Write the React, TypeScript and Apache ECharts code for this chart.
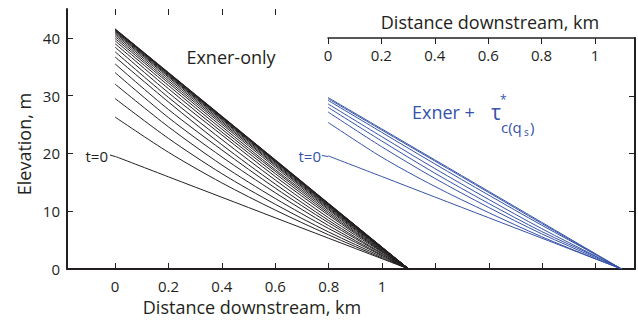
import React, { useEffect, useRef } from "react";
import * as echarts from "echarts";

// Distances (km) at which each profile was read
const X_PTS = [0, 0.2, 0.4, 0.6, 0.8, 1.0, 1.1];

// Exner-only profiles (elevation, m), t=0 first
const BLACK_PROFILES = [
  [19.5, 15.95, 12.41, 8.86, 5.32, 1.77, 0],
  [26.3, 20.2, 14.9, 10.2, 5.9, 1.9, 0],
  [29.5, 22.6, 16.5, 11.2, 6.4, 2.1, 0],
  [32.0, 24.6, 18.0, 12.2, 7.0, 2.3, 0],
  [34.0, 26.2, 19.4, 13.2, 7.5, 2.4, 0],
  [35.5, 27.6, 20.6, 14.0, 8.0, 2.6, 0],
  [36.7, 28.9, 21.5, 14.7, 8.4, 2.7, 0],
  [37.6, 29.7, 22.4, 15.4, 8.85, 2.9, 0],
  [38.4, 30.5, 23.2, 16.0, 9.3, 3.0, 0],
  [39.0, 31.2, 23.7, 16.5, 9.6, 3.1, 0],
  [39.5, 31.75, 24.2, 16.9, 9.9, 3.2, 0],
  [39.9, 32.2, 24.65, 17.2, 10.2, 3.3, 0],
  [40.25, 32.55, 25.05, 17.6, 10.4, 3.4, 0],
  [40.55, 32.9, 25.35, 17.9, 10.6, 3.5, 0],
  [40.8, 33.2, 25.6, 18.1, 10.75, 3.55, 0],
  [41.0, 33.4, 25.85, 18.3, 10.9, 3.6, 0],
  [41.15, 33.55, 26.0, 18.5, 11.0, 3.65, 0],
  [41.28, 33.7, 26.15, 18.6, 11.1, 3.7, 0],
  [41.38, 33.8, 26.25, 18.7, 11.2, 3.72, 0],
  [41.46, 33.88, 26.33, 18.8, 11.25, 3.74, 0],
  [41.52, 33.95, 26.4, 18.85, 11.3, 3.76, 0],
  [41.57, 34.0, 26.45, 18.9, 11.34, 3.78, 0],
];

// Exner + tau*c(qs) profiles (elevation, m), t=0 first
const BLUE_PROFILES = [
  [19.6, 16.04, 12.47, 8.91, 5.35, 1.78, 0],
  [25.4, 19.4, 14.3, 9.8, 5.6, 1.8, 0],
  [27.2, 21.2, 15.7, 10.7, 6.1, 2.0, 0],
  [28.0, 22.2, 16.6, 11.4, 6.5, 2.2, 0],
  [28.6, 22.95, 17.4, 12.1, 7.0, 2.3, 0],
  [29.2, 23.7, 18.2, 12.85, 7.6, 2.55, 0],
  [29.5, 24.1, 18.7, 13.3, 7.9, 2.6, 0],
  [29.7, 24.3, 18.9, 13.5, 8.1, 2.7, 0],
];

const BOTTOM_TICKS = [0, 0.2, 0.4, 0.6, 0.8, 1.0, 1.2, 1.4, 1.6, 1.8];
const BOTTOM_LABELS = [0, 0.2, 0.4, 0.6, 0.8, 1.0];
const TOP_LEFT_TICKS = [0, 0.2, 0.4, 0.6];
const TOP_RIGHT_TICKS = [0, 0.2, 0.4, 0.6, 0.8, 1.0];
const Y_TICKS = [0, 10, 20, 30, 40];
const Y_RIGHT_TICKS = [10, 20, 30];

const INK = "#231f20";
const BLUE = "#3553a8";
const FONT = "'Open Sans', 'Noto Sans', sans-serif";

const fmt = (v: number) => String(Math.round(v * 10) / 10);

export default function App() {
  const ref = useRef<HTMLDivElement>(null);
  useEffect(() => {
    if (!ref.current) return;
    const chart = echarts.init(ref.current, null, { renderer: "svg" });
    const series: any[] = [];
    BLACK_PROFILES.forEach((p) => {
      series.push({
        type: "line",
        xAxisIndex: 0,
        yAxisIndex: 0,
        data: X_PTS.map((x, i) => [x, p[i]]),
        smooth: 0.3,
        symbol: "none",
        lineStyle: { color: INK, width: 1 },
      });
    });
    BLUE_PROFILES.forEach((p) => {
      series.push({
        type: "line",
        xAxisIndex: 2,
        yAxisIndex: 1,
        data: X_PTS.map((x, i) => [x, p[i]]),
        smooth: 0.3,
        symbol: "none",
        lineStyle: { color: BLUE, width: 1 },
      });
    });
    const txt = (text: string, x: number, y: number, size: number, fill: string, align = "center") => ({
      type: "text",
      x,
      y,
      style: { text, fill, font: `${size}px ${FONT}`, textAlign: align, textVerticalAlign: "middle" },
    });
    chart.setOption({
      animation: false,
      backgroundColor: "#ffffff",
      textStyle: { fontFamily: FONT },
      grid: [
        { left: 67, right: 3, top: 9, bottom: 52 },
        { left: 328, right: 3, top: 38, bottom: 52 },
      ],
      xAxis: [
        {
          type: "value",
          gridIndex: 0,
          position: "bottom",
          min: -0.18,
          max: 1.947,
          splitLine: { show: false },
          axisLine: { show: true, onZero: false, lineStyle: { color: INK, width: 2 } },
          axisTick: { show: true, inside: true, length: 6, customValues: BOTTOM_TICKS, lineStyle: { color: INK, width: 1 } },
          axisLabel: { show: true, customValues: BOTTOM_LABELS, formatter: fmt, color: INK, fontSize: 15, margin: 9, fontFamily: FONT },
        },
        {
          type: "value",
          gridIndex: 0,
          position: "top",
          min: -0.18,
          max: 1.947,
          splitLine: { show: false },
          axisLine: { show: false, onZero: false },
          axisTick: { show: true, inside: true, length: 6, customValues: TOP_LEFT_TICKS, lineStyle: { color: INK, width: 1 } },
          axisLabel: { show: false },
        },
        {
          type: "value",
          gridIndex: 1,
          position: "top",
          min: 0,
          max: 1.15,
          splitLine: { show: false },
          axisLine: { show: true, onZero: false, lineStyle: { color: INK, width: 1.5 } },
          axisTick: { show: true, inside: true, length: 6, customValues: TOP_RIGHT_TICKS, lineStyle: { color: INK, width: 1 } },
          axisLabel: { show: true, inside: true, customValues: TOP_RIGHT_TICKS, formatter: fmt, color: INK, fontSize: 15, margin: 9, fontFamily: FONT },
        },
      ],
      yAxis: [
        {
          type: "value",
          gridIndex: 0,
          position: "left",
          min: 0,
          max: 45,
          splitLine: { show: false },
          axisLine: { show: true, onZero: false, lineStyle: { color: INK, width: 2 } },
          axisTick: { show: true, inside: true, length: 6, customValues: Y_TICKS, lineStyle: { color: INK, width: 1 } },
          axisLabel: { show: true, customValues: Y_TICKS, color: INK, fontSize: 15, margin: 7, fontFamily: FONT },
        },
        {
          type: "value",
          gridIndex: 1,
          position: "right",
          min: 0,
          max: 40,
          splitLine: { show: false },
          axisLine: { show: true, onZero: false, lineStyle: { color: INK, width: 2 } },
          axisTick: { show: true, inside: true, length: 6, customValues: Y_RIGHT_TICKS, lineStyle: { color: INK, width: 1 } },
          axisLabel: { show: false },
        },
      ],
      graphic: [
        {
          type: "text",
          x: 24,
          y: 144,
          rotation: Math.PI / 2,
          style: { text: "Elevation, m", fill: INK, font: `18px ${FONT}`, textAlign: "center", textVerticalAlign: "middle" },
        },
        txt("Distance downstream, km", 252, 307, 18, INK),
        txt("Distance downstream, km", 490, 22, 18, INK),
        txt("Exner-only", 231, 57, 18, INK),
        txt("Exner +", 412, 112, 18, BLUE, "left"),
        txt("τ", 491, 112, 21, BLUE, "left"),
        txt("*", 500, 99, 12, BLUE, "left"),
        txt("c(q", 501, 127, 15, BLUE, "left"),
        txt("s", 524, 132, 10, BLUE, "left"),
        txt(")", 530, 127, 15, BLUE, "left"),
        txt("t=0", 108, 156, 15, INK, "right"),
        {
          type: "line",
          shape: { x1: 110, y1: 155, x2: 115, y2: 156.5 },
          style: { stroke: INK, lineWidth: 1 },
        },
        txt("t=0", 321, 156, 15, BLUE, "right"),
        {
          type: "line",
          shape: { x1: 322, y1: 155.5, x2: 328, y2: 156.5 },
          style: { stroke: BLUE, lineWidth: 1 },
        },
      ],
      series,
    });
    return () => chart.dispose();
  }, []);
  return <div ref={ref} style={{ width: 638, height: 321, position: "fixed", left: 0, top: 0 }} />;
}
